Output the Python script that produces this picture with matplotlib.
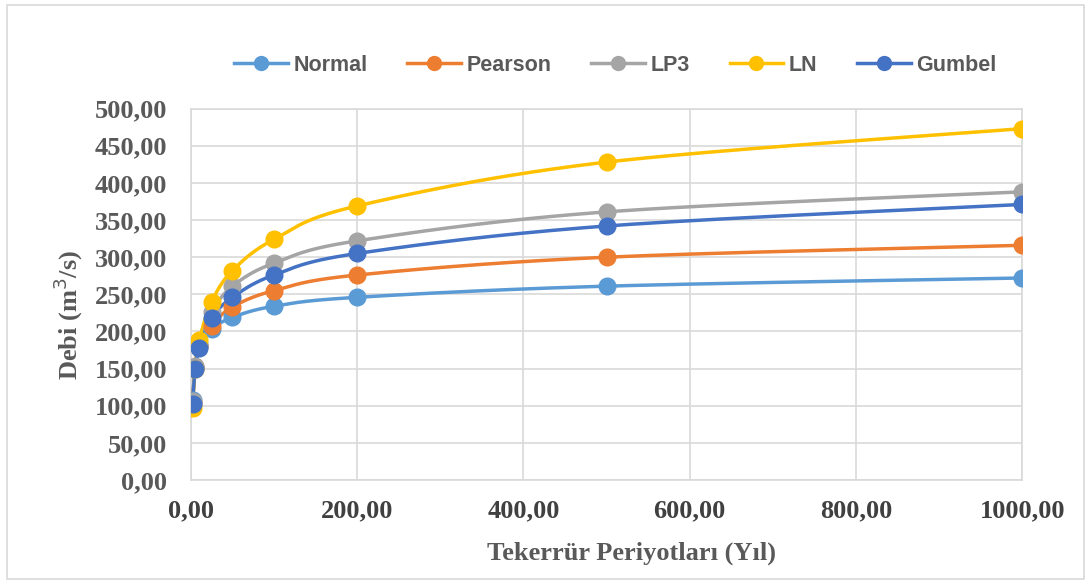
import matplotlib
matplotlib.use("Agg")
import matplotlib.pyplot as plt
from matplotlib.patches import Rectangle
from matplotlib.ticker import FuncFormatter, MultipleLocator
import numpy as np

# return periods (years) and discharge estimates per distribution
periods = [2, 5, 10, 25, 50, 100, 200, 500, 1000]
normal = [108, 151, 180, 203, 219, 234, 246, 261, 272]
pearson = [104, 152, 180, 208, 233, 255, 276, 300, 316]
lp3 = [106, 153, 183, 226, 261, 292, 322, 361, 388]
ln = [97, 150, 188, 240, 282, 324, 369, 428, 473]
gumbel = [102, 149, 178, 218, 246, 276, 305, 342, 371]

series = [
    ("Normal", normal, "#5B9BD5"),
    ("Pearson", pearson, "#ED7D31"),
    ("LP3", lp3, "#A5A5A5"),
    ("LN", ln, "#FFC000"),
    ("Gumbel", gumbel, "#4472C4"),
]

XMAX, YMAX = 1000.0, 500.0
W_PX, H_PX = 830.0, 370.0  # plot area size, used to smooth in screen space


def smooth(xs, ys, n=30):
    # Catmull-Rom curve through the points, computed in pixel-like space
    p = np.column_stack([np.asarray(xs) / XMAX * W_PX, np.asarray(ys) / YMAX * H_PX])
    p = np.vstack([p[0], p, p[-1]])
    out = []
    for i in range(1, len(p) - 2):
        p0, p1, p2, p3 = p[i - 1], p[i], p[i + 1], p[i + 2]
        t = np.linspace(0, 1, n)[:, None]
        c = 0.5 * ((2 * p1) + (-p0 + p2) * t + (2 * p0 - 5 * p1 + 4 * p2 - p3) * t ** 2
                   + (-p0 + 3 * p1 - 3 * p2 + p3) * t ** 3)
        out.append(c)
    c = np.vstack(out)
    return c[:, 0] / W_PX * XMAX, c[:, 1] / H_PX * YMAX


fig = plt.figure(figsize=(10.91, 5.84), dpi=100)
ax = fig.add_axes([0.175, 0.178, 0.762, 0.636])

for name, vals, col in series:
    sx, sy = smooth(periods, vals)
    ax.plot(sx, sy, color=col, lw=2.5, solid_capstyle="round", zorder=3)
    ax.plot(periods, vals, ls="none", marker="o", ms=12, color=col, zorder=4)
    ax.plot([], [], color=col, lw=2.5, marker="o", ms=10, label=name)

ax.set_xlim(0, XMAX)
ax.set_ylim(0, YMAX)
ax.xaxis.set_major_locator(MultipleLocator(200))
ax.yaxis.set_major_locator(MultipleLocator(50))
fmt = FuncFormatter(lambda v, _: f"{v:.2f}".replace(".", ","))
ax.xaxis.set_major_formatter(fmt)
ax.yaxis.set_major_formatter(fmt)

serif = ["Liberation Serif", "DejaVu Serif"]
for lab in ax.get_yticklabels():
    lab.set_fontfamily(serif)
    lab.set_fontweight("bold")
    lab.set_fontsize(19)
    lab.set_color("#595959")
for lab in ax.get_xticklabels():
    lab.set_fontfamily(serif)
    lab.set_fontweight("bold")
    lab.set_fontsize(19)
    lab.set_color("#404040")
ax.tick_params(axis="y", length=0, pad=17)
ax.tick_params(axis="x", length=0, pad=14)

ax.grid(True, color="#D9D9D9", lw=1.2)
ax.set_axisbelow(True)
for s in ax.spines.values():
    s.set_color("#D9D9D9")
    s.set_linewidth(1.2)

label_font = dict(family=serif, weight="bold", size=19)
ax.set_ylabel("Debi (m$^3$/s)", fontdict=label_font, color="#595959")
ax.set_xlabel("Tekerrür Periyotları (Yıl)", fontdict=label_font, color="#595959")
ax.yaxis.set_label_coords(-0.128, 0.445)
ax.xaxis.set_label_coords(0.53, -0.166)

leg = fig.legend(loc="center", bbox_to_anchor=(0.564, 0.888), ncol=5, frameon=False,
                 handlelength=2.5, handletextpad=0.25, columnspacing=1.85,
                 prop=dict(family=["Liberation Sans Narrow", "Liberation Sans", "DejaVu Sans"],
                           weight="bold", size=15.5))
for t in leg.get_texts():
    t.set_color("#595959")

fig.patches.append(Rectangle((0.006, 0.008), 0.988, 0.984, transform=fig.transFigure,
                             fill=False, edgecolor="#D9D9D9", lw=1.2))

fig.savefig("out.png", dpi=100)
